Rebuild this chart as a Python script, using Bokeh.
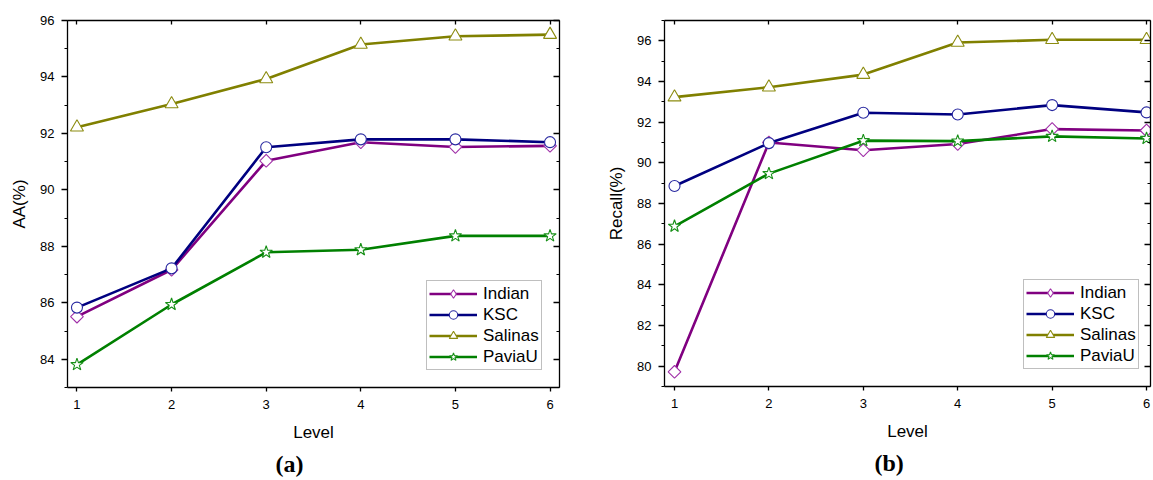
from bokeh.plotting import figure
from bokeh.models import (Range1d, LinearAxis, FixedTicker, SingleIntervalTicker,
                          Legend, LegendItem, Title, CustomLabelingPolicy)
from bokeh.layouts import row
from bokeh.embed import file_html
from bokeh.resources import INLINE

# ---------------- data ----------------
levels = [1, 2, 3, 4, 5, 6]
series_names = ["Indian", "KSC", "Salinas", "PaviaU"]

aa_indian = [85.51, 87.17, 91.03, 91.69, 91.52, 91.56]
aa_ksc = [85.83, 87.22, 91.51, 91.79, 91.79, 91.69]
aa_salinas = [92.22, 93.04, 93.93, 95.15, 95.44, 95.50]
aa_paviau = [83.81, 85.94, 87.79, 87.88, 88.37, 88.37]

recall_indian = [79.72, 91.00, 90.62, 90.93, 91.66, 91.59]
recall_ksc = [88.86, 90.97, 92.46, 92.38, 92.84, 92.48]
recall_salinas = [93.23, 93.72, 94.34, 95.92, 96.05, 96.05]
recall_paviau = [86.88, 89.47, 91.09, 91.07, 91.30, 91.20]

x_tick_labels = ["1", "2", "3", "4", "5", "6"]
x_title = "Level"
y_title_a = "AA(%)"
y_title_b = "Recall(%)"
caption_a = "(a)"
caption_b = "(b)"

# ---------------- styles ----------------
line_colors = ["#800080", "#000080", "#808000", "#008000"]
marker_colors = ["#A030A8", "#2828A0", "#8C8C10", "#189018"]
markers = ["square", "circle", "triangle", "star"]
legend_markers = ["diamond", "circle", "triangle", "star"]
marker_sizes = [9, 11, 13, 13]
marker_angles = [0.7853981634, 0, 0, 0]
SANS = "Liberation Sans"
SERIF = "Liberation Serif"

NO_LABELS = "for (const i of indices) { indices.unset(i) } return indices"


def make_panel(series, y_title, x_rng, y_rng, frame_w, frame_h,
               b_left, b_right, b_top, b_bottom, caption, caption_offset):
    p = figure(frame_width=frame_w, frame_height=frame_h,
               x_range=Range1d(*x_rng), y_range=Range1d(*y_rng),
               output_backend="svg", toolbar_location=None,
               min_border_left=b_left, min_border_right=b_right,
               min_border_top=b_top, min_border_bottom=b_bottom,
               background_fill_color="white", border_fill_color="white")
    p.xgrid.visible = False
    p.ygrid.visible = False
    p.outline_line_color = None

    # bottom axis
    xa = p.xaxis[0]
    xa.ticker = FixedTicker(ticks=levels)
    xa.major_label_overrides = {lv: lab for lv, lab in zip(levels, x_tick_labels)}
    xa.axis_label = x_title
    xa.axis_label_text_font = SANS
    xa.axis_label_text_font_style = "normal"
    xa.axis_label_text_font_size = "17px"
    xa.axis_label_standoff = 11
    xa.major_label_text_font = SANS
    xa.major_label_text_font_size = "13px"
    xa.major_label_standoff = 8
    xa.major_tick_out = 4
    xa.major_tick_in = 0
    xa.minor_tick_out = 0
    xa.minor_tick_in = 0

    # left axis
    ya = p.yaxis[0]
    ya.ticker = SingleIntervalTicker(interval=2, num_minor_ticks=2)
    ya.axis_label = y_title
    ya.axis_label_text_font = SANS
    ya.axis_label_text_font_style = "normal"
    ya.axis_label_text_font_size = "17px"
    ya.axis_label_standoff = 8
    ya.major_label_text_font = SANS
    ya.major_label_text_font_size = "13px"
    ya.major_label_standoff = 7
    ya.major_tick_out = 6
    ya.major_tick_in = 0
    ya.minor_tick_out = 3
    ya.minor_tick_in = 0

    for ax in (xa, ya):
        ax.axis_line_color = "black"
        ax.axis_line_width = 1.3
        ax.major_tick_line_color = "black"
        ax.major_tick_line_width = 1.3
        ax.minor_tick_line_color = "black"
        ax.minor_tick_line_width = 1.1
        ax.major_label_text_color = "black"
        ax.axis_label_text_color = "black"

    # top & right mirror axes (ticks inward, no labels)
    top = LinearAxis(ticker=FixedTicker(ticks=levels),
                     major_label_policy=CustomLabelingPolicy(code=NO_LABELS),
                     major_label_text_font_size="1px", major_label_standoff=0,
                     major_tick_in=4, major_tick_out=0,
                     minor_tick_in=0, minor_tick_out=0,
                     axis_line_color="black", axis_line_width=1.3,
                     major_tick_line_color="black", major_tick_line_width=1.3)
    p.add_layout(top, "above")
    right = LinearAxis(ticker=SingleIntervalTicker(interval=2, num_minor_ticks=2),
                       major_label_policy=CustomLabelingPolicy(code=NO_LABELS),
                       major_label_text_font_size="1px", major_label_standoff=0,
                       major_tick_in=6, major_tick_out=0,
                       minor_tick_in=3, minor_tick_out=0,
                       axis_line_color="black", axis_line_width=1.3,
                       major_tick_line_color="black", major_tick_line_width=1.3,
                       minor_tick_line_color="black", minor_tick_line_width=1.1)
    p.add_layout(right, "right")

    items = []
    for name, ys, lc, mc, mk, lmk, ms, ang in zip(series_names, series, line_colors,
                                                  marker_colors, markers, legend_markers,
                                                  marker_sizes, marker_angles):
        lr = p.line(levels, ys, line_color=lc, line_width=2.6)
        sr = p.scatter(levels, ys, marker=mk, size=ms, angle=ang,
                       fill_color="white", line_color=mc, line_width=1.1)
        if lmk != mk:
            # legend-only marker shape (not drawn in the plot area)
            lg = p.scatter(levels, ys, marker=lmk, size=ms, visible=False,
                           fill_color="white", line_color=mc, line_width=1.1)
            items.append(LegendItem(label=name, renderers=[lr, lg]))
        else:
            items.append(LegendItem(label=name, renderers=[lr, sr]))

    legend = Legend(items=items, location=(359, 17), margin=0, padding=2,
                    spacing=0, glyph_width=48, glyph_height=21, label_height=21,
                    label_standoff=6, label_text_font=SANS,
                    label_text_font_size="17px", label_text_color="black",
                    border_line_color="#7f7f7f", border_line_width=1.2,
                    background_fill_color="white", background_fill_alpha=1.0)
    p.add_layout(legend, "center")

    p.add_layout(Title(text=caption, align="left", offset=caption_offset,
                       standoff=8, text_font=SERIF, text_font_style="bold",
                       text_font_size="24px", text_color="black"), "below")
    return p


pa = make_panel([aa_indian, aa_ksc, aa_salinas, aa_paviau], y_title_a,
                (0.9, 6.1), (83, 96), 492, 367, 67, 41, 18, 95,
                caption_a, 208)
pb = make_panel([recall_indian, recall_ksc, recall_salinas, recall_paviau], y_title_b,
                (0.894, 6.042), (79, 97), 486, 366, 64, 3, 20, 94,
                caption_b, 210)

layout = row(pa, pb, spacing=0)
open("out.html", "w").write(file_html(layout, INLINE))
